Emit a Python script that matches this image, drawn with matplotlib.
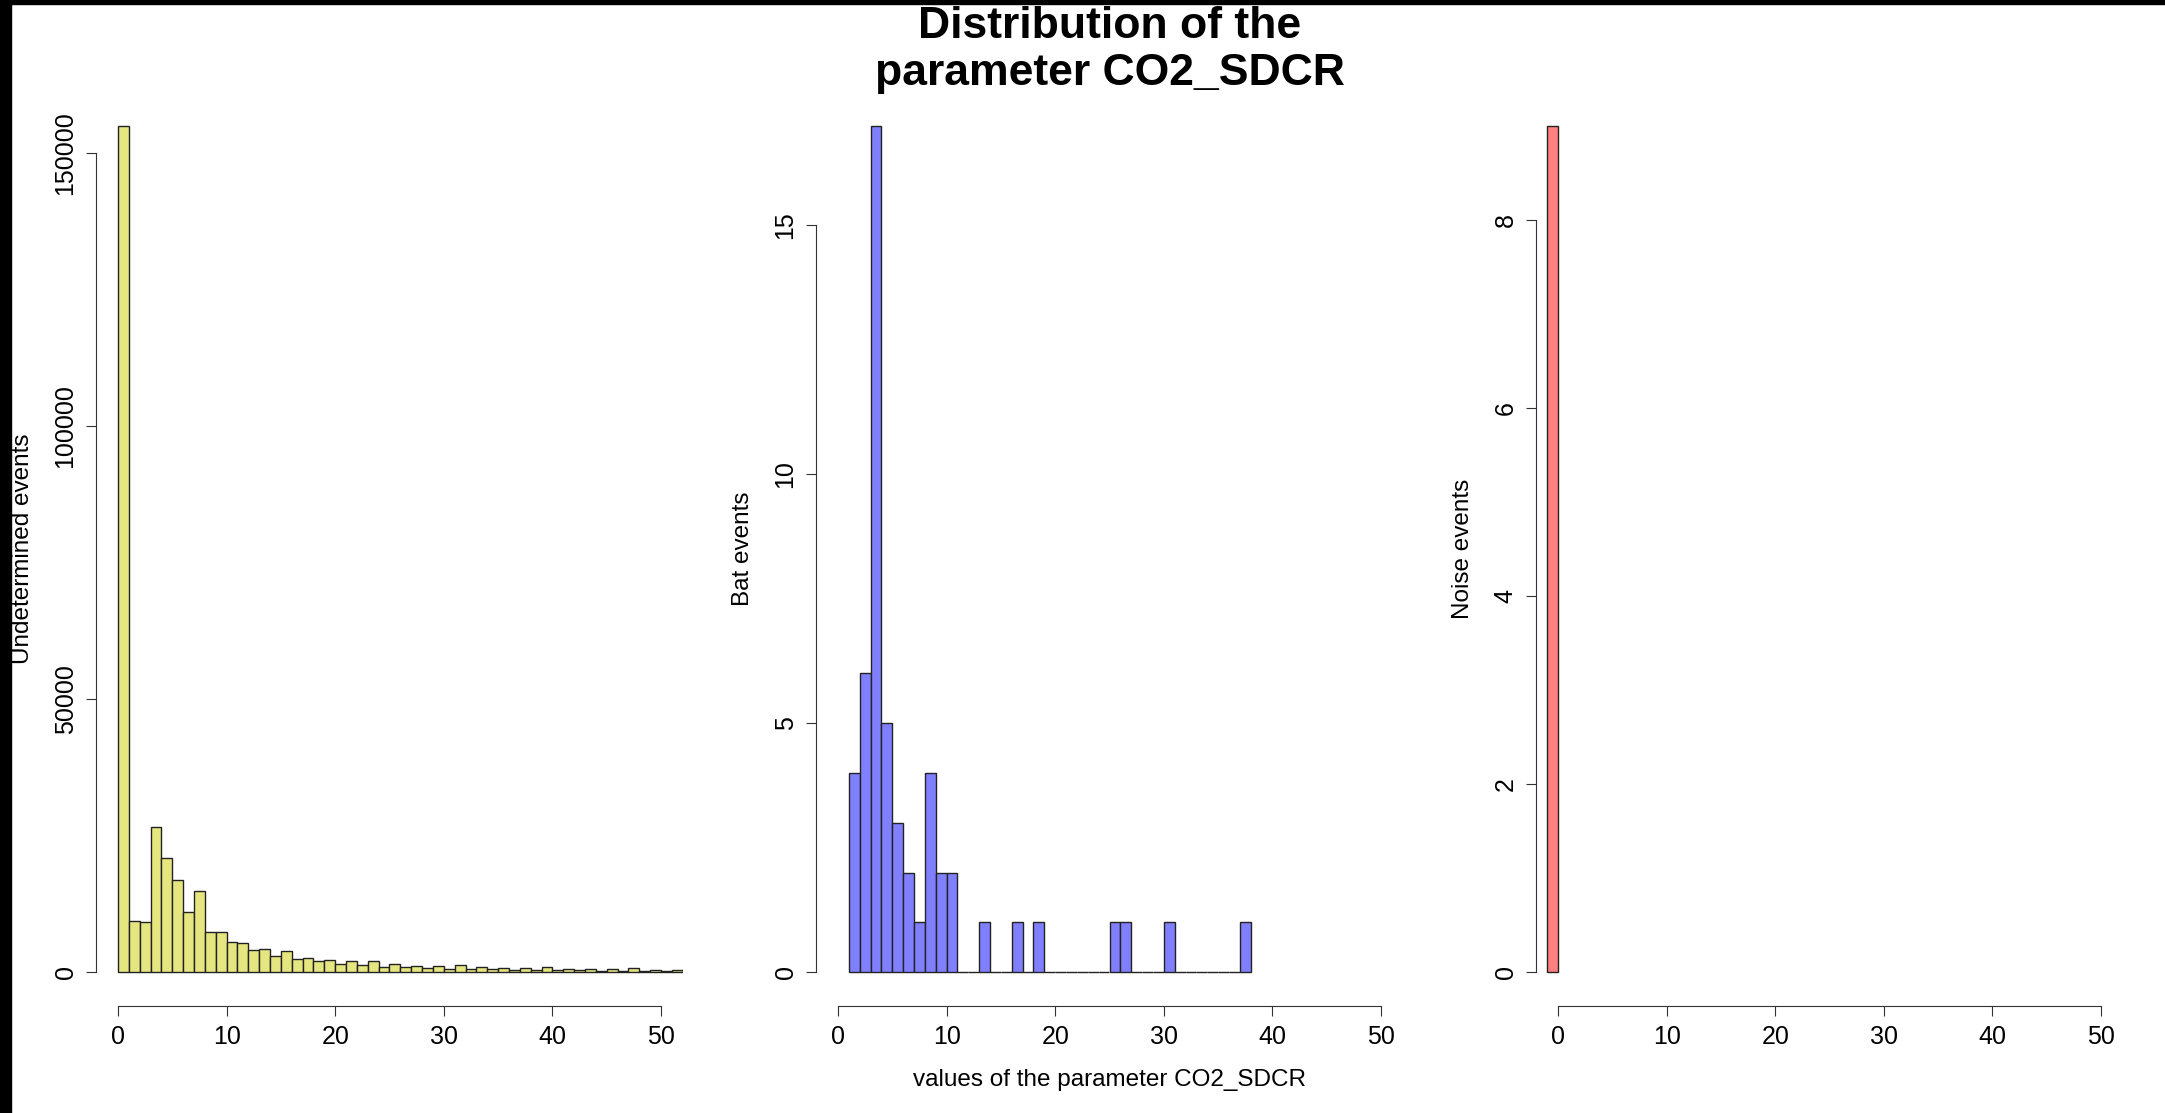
import matplotlib
matplotlib.use("Agg")
import matplotlib.pyplot as plt
import numpy as np

plt.rcParams['font.family'] = ['Liberation Sans', 'DejaVu Sans']

# histogram counts, bins of width 1
undet_start = 0
undet_counts = [155000, 9400, 9200, 26500, 20900, 16850, 11100, 14800, 7400, 7400,
                5550, 5300, 4030, 4250, 2970, 3850, 2390, 2620, 2020, 2190,
                1530, 2020, 1320, 2020, 950, 1560, 950, 1160, 780, 1160,
                520, 1320, 520, 980, 630, 780, 320, 780, 360, 980,
                400, 580, 350, 490, 150, 490, 150, 780, 150, 380,
                170, 330]

bat_start = 1
bat_counts = [4, 6, 17, 5, 3, 2, 1, 4, 2, 2,
              0, 0, 1, 0, 0, 1, 0, 1, 0, 0,
              0, 0, 0, 0, 1, 1, 0, 0, 0, 1,
              0, 0, 0, 0, 0, 0, 1]

noise_start = -1
noise_counts = [9]

panels = [
    (undet_start, undet_counts, "#E6E680", "Undetermined events", [0, 50000, 100000, 150000]),
    (bat_start, bat_counts, "#8080FF", "Bat events", [0, 5, 10, 15]),
    (noise_start, noise_counts, "#FF8080", "Noise events", [0, 2, 4, 6, 8]),
]
xticks = [0, 10, 20, 30, 40, 50]

W, H = 2165, 1113
fig = plt.figure(figsize=(W / 100, H / 100), dpi=100)

lefts = [96.3, 816.3, 1536.3]
ax_w = 586.4
bottom = 1 - 1006 / H
ax_h = (1006 - 92) / H

axes = []
for (start, counts, col, ylab, yticks), lx in zip(panels, lefts):
    ax = fig.add_axes([lx / W, bottom, ax_w / W, ax_h])
    ax.patch.set_visible(False)
    edges = start + np.arange(len(counts))
    ax.bar(edges, counts, width=1, align='edge', color=col, edgecolor='#222222', linewidth=1.0)
    ymax = max(counts)
    ax.set_xlim(-2, 52)
    ax.set_ylim(-0.04 * ymax, 1.04 * ymax)
    for s in ['top', 'right']:
        ax.spines[s].set_visible(False)
    ax.spines['left'].set_bounds(yticks[0], yticks[-1])
    ax.spines['bottom'].set_bounds(xticks[0], xticks[-1])
    for s in ['left', 'bottom']:
        ax.spines[s].set_linewidth(0.8)
        ax.spines[s].set_color('#333333')
    ax.set_xticks(xticks)
    ax.set_yticks(yticks)
    ax.tick_params(length=7.5, width=0.8, color='#333333', labelsize=18, pad=6)
    ax.tick_params(axis='y', labelrotation=90)
    for t in ax.get_yticklabels():
        t.set_va('center')
    ax.set_ylabel(ylab, fontsize=17.5, labelpad=14)
    axes.append(ax)

# title over the middle panel
cx = (lefts[1] + ax_w / 2) / W
fig.text(cx, 1 - 50 / H, "Distribution of the\nparameter CO2_SDCR", ha='center', va='center',
         fontsize=32, fontweight='bold', linespacing=1.2)
fig.text(cx, 1 - 1080 / H, "values of the parameter CO2_SDCR", ha='center', va='center', fontsize=17.5)

# black frame on the left and top edges of the screenshot
fig.patches.append(plt.Rectangle((0, 0), 11 / W, 1, transform=fig.transFigure, color='black', zorder=10))
fig.patches.append(plt.Rectangle((0, 1 - 4 / H), 1, 4 / H, transform=fig.transFigure, color='black', zorder=10))

fig.savefig("out.png", dpi=100)
